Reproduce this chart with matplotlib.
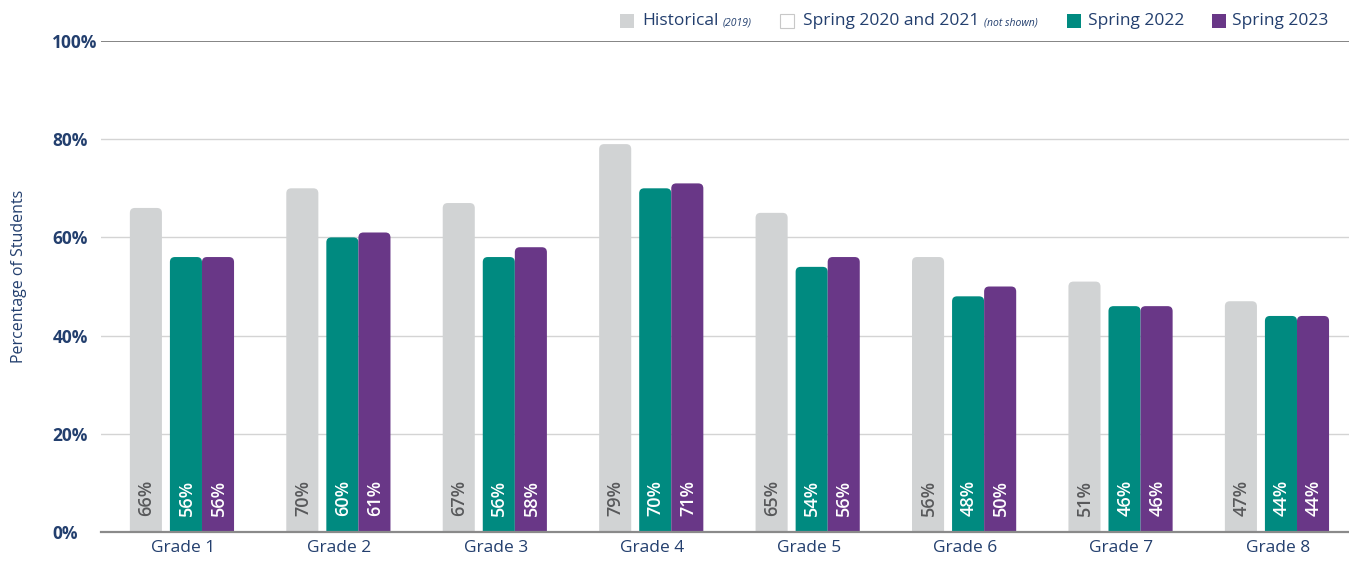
import numpy as np
import matplotlib
matplotlib.use("Agg")
import matplotlib.pyplot as plt
from matplotlib.patches import FancyBboxPatch, Rectangle

# data
grades = ["Grade 1", "Grade 2", "Grade 3", "Grade 4", "Grade 5", "Grade 6", "Grade 7", "Grade 8"]
hist_2019 = [66, 70, 67, 79, 65, 56, 51, 47]
spring_2022 = [56, 60, 56, 70, 54, 48, 46, 44]
spring_2023 = [56, 61, 58, 71, 56, 50, 46, 44]

# colours
c_hist = "#d1d3d4"
c_2022 = "#008a80"
c_2023 = "#693787"
navy = "#233f6e"

plt.rcParams['font.family'] = ['Open Sans', 'DejaVu Sans']

W, H = 1349, 563
fig = plt.figure(figsize=(W / 100, H / 100), dpi=100)
ax_l, ax_r, ax_b, ax_t = 101, 1349, 532, 41
ax = fig.add_axes([ax_l / W, (H - ax_b) / H, (ax_r - ax_l) / W, (ax_b - ax_t) / H])

x = np.arange(len(grades))
xmin, xmax = -0.524, 7.454
ax.set_xlim(xmin, xmax)
ax.set_ylim(0, 100)

# pixel -> data units for rounded corners
px_x = (xmax - xmin) / (ax_r - ax_l)
px_y = 100 / (ax_b - ax_t)
radius = 5 * px_x
aspect = px_y / px_x

width = 0.205
offsets = [-0.237, 0.019, 0.224]
series = [(hist_2019, c_hist, "#58595b"), (spring_2022, c_2022, "white"), (spring_2023, c_2023, "white")]

# grid
for v in [20, 40, 60, 80]:
    ax.axhline(v, color="#d4d4d4", lw=1.0, zorder=0)
ax.axhline(100, color="#707070", lw=1.2, zorder=0)

for (vals, col, tcol), off in zip(series, offsets):
    for xi, v in zip(x, vals):
        left = xi + off - width / 2
        p = FancyBboxPatch((left, -5), width, v + 5,
                           boxstyle="round,pad=0,rounding_size=%f" % radius,
                           mutation_aspect=aspect, facecolor=col, edgecolor="none",
                           zorder=2, clip_on=True)
        ax.add_patch(p)
        ax.text(xi + off + 0.004, 3.3, "%d%%" % v, rotation=90, ha="center", va="bottom",
                color=tcol, fontsize=13, fontweight="semibold", zorder=3)

ax.axhline(0, color="#8a8a8a", lw=1.6, zorder=4, clip_on=False)

for s in ax.spines.values():
    s.set_visible(False)

ax.set_xticks(x)
ax.set_xticklabels(grades, fontsize=12.5, color=navy)
ax.tick_params(axis="x", length=0, pad=6)

ax.set_yticks([0, 20, 40, 60, 80, 100])
ax.set_yticklabels(["0%", "20%", "40%", "60%", "80%", "100%"], fontsize=12.5,
                   color=navy, fontweight="bold")
ax.tick_params(axis="y", length=0, pad=35)
for t in ax.get_yticklabels():
    t.set_horizontalalignment("left")

ax.set_ylabel("Percentage of Students", fontsize=11.5, color=navy)
ax.yaxis.set_label_coords((27 - ax_l) / (ax_r - ax_l), 0.52)

# legend built by hand (mixed italic text)
leg_y = H - 21
items = [
    (620, c_hist, "none", 642, "Historical", "(2019)"),
    (780, "white", "#c8c8c8", 803, "Spring 2020 and 2021", "(not shown)"),
    (1067, c_2022, "none", 1088, "Spring 2022", None),
    (1212, c_2023, "none", 1232, "Spring 2023", None),
]
for sx, fc, ec, tx, lab, small in items:
    fig.patches.append(Rectangle((sx / W, (leg_y - 7) / H), 14 / W, 14 / H,
                                 transform=fig.transFigure, facecolor=fc,
                                 edgecolor=ec, lw=0.8))
    t = fig.text(tx / W, leg_y / H, lab, ha="left", va="center", fontsize=12.5, color=navy)
    if small:
        ax.annotate(small, xy=(1, 0.35), xycoords=t, xytext=(3, 0), textcoords="offset points",
                    ha="left", va="center", fontsize=7.5, style="italic", color=navy,
                    annotation_clip=False)

fig.savefig("out.png", dpi=100, facecolor="white")
